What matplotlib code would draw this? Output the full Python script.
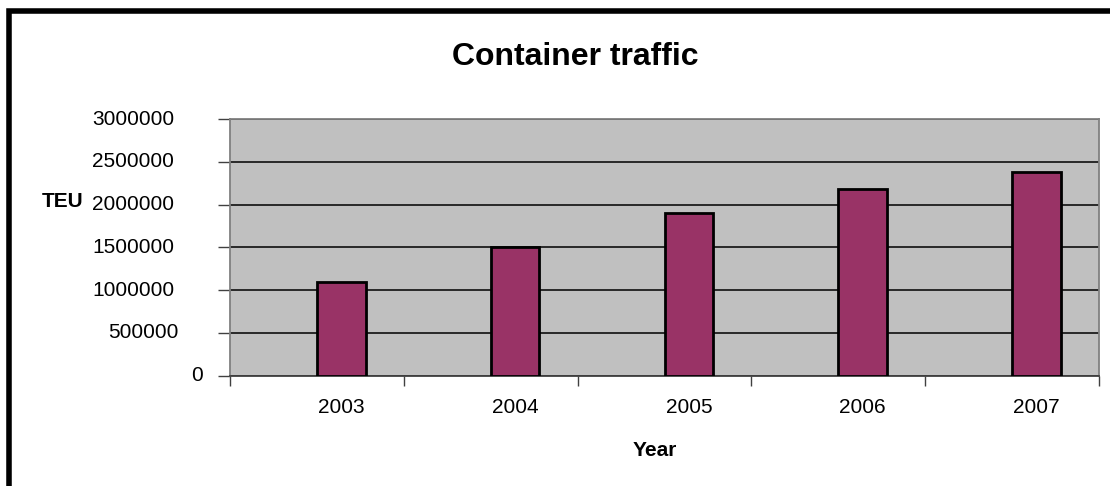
import matplotlib.pyplot as plt
from matplotlib.patches import Rectangle

plt.rcParams['font.family'] = ['Liberation Sans', 'DejaVu Sans']

years = ['2003', '2004', '2005', '2006', '2007']
teu = [1090000, 1500000, 1905000, 2180000, 2385000]
yticks = [0, 500000, 1000000, 1500000, 2000000, 2500000, 3000000]

W, H = 1110, 486
fig = plt.figure(figsize=(W/100, H/100), dpi=100)
ax = fig.add_axes([230/W, 1 - 375.7/H, 869/W, 256.7/H])

# bars sit right of category centre (excel style clustered look)
w = 0.28
pos = [i + w/2 for i in range(len(years))]
ax.bar(pos, teu, width=w, color='#993366', edgecolor='black', linewidth=2, zorder=3)

ax.set_facecolor('#C0C0C0')
ax.set_xlim(-0.5, len(years) - 0.5)
ax.set_ylim(0, 3000000)
ax.set_yticks(yticks)
ax.set_yticklabels([])
ax.yaxis.grid(True, color='black', linewidth=1.1, zorder=1)
ax.tick_params(axis='y', length=9, width=1, color='#404040')

# y labels drawn as text; the source renders them slightly off right-alignment
for v in yticks:
    s = str(v)
    cx = (208 - 10.7*len(s) - 230) / 869
    ax.text(cx, v, s, fontsize=15, ha='center', va='center',
            transform=ax.get_yaxis_transform(), clip_on=False)

ax.set_xticks(pos)
ax.set_xticklabels(years, fontsize=15)
ax.tick_params(axis='x', length=0, pad=16)
ax.set_xticks([i - 0.5 for i in range(len(years) + 1)], minor=True)
ax.tick_params(axis='x', which='minor', length=7, width=1, color='#404040')

for s in ax.spines.values():
    s.set_color('#808080')
    s.set_linewidth(1.3)
ax.spines['bottom'].set_color('#404040')

fig.text(655/W, 1 - 450/H, 'Year', fontsize=15, fontweight='bold', ha='center', va='center')
fig.text(63/W, 1 - 201/H, 'TEU', fontsize=15, fontweight='bold', ha='center', va='center')
fig.text(575/W, 1 - 57/H, 'Container traffic', fontsize=23, fontweight='bold', ha='center', va='center')

# outer frame, only top and left visible in the crop
fig.patches.append(Rectangle((8.5/W, -0.1), 1.2, 1 - 11.5/H + 0.1, transform=fig.transFigure,
                             fill=False, edgecolor='black', linewidth=4))

fig.savefig('out.png', dpi=100)
